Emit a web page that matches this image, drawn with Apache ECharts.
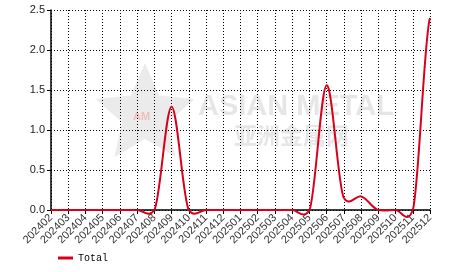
<!DOCTYPE html>
<html><head><meta charset="utf-8">
<script src="https://cdn.jsdelivr.net/npm/echarts@6/dist/echarts.min.js"></script>
<style>html,body{margin:0;padding:0;background:#fff}#c{width:466px;height:272px}</style>
</head><body><div id="c"></div>
<script>
var categories = ["202402","202403","202404","202405","202406","202407","202408","202409","202410","202411","202412","202501","202502","202503","202504","202505","202506","202507","202508","202509","202510","202511","202512"];
var totalValues = [0,0,0,0,0,0,0,1.29,0,0,0,0,0,0,0,0,1.56,0.15,0.17,0,0,0,2.4];
var seriesName = "Total";
var yTicks = {min:0,max:2.5,interval:0.5};

function starPoints(cx, cy, R, r){
  var pts=[];
  for(var k=0;k<10;k++){
    var ang=-Math.PI/2+k*Math.PI/5, rad=(k%2===0)?R:r;
    pts.push([cx+rad*Math.cos(ang), cy+rad*Math.sin(ang)]);
  }
  return pts;
}
var CP = 1/12;
function renderSegment(params, api){
  var i = api.value(0);
  var n = totalValues.length;
  if(i >= n-1) return null;
  var a = Math.max(i-1,0), d = Math.min(i+2,n-1);
  var p0 = api.coord([a, totalValues[a]]);
  var p1 = api.coord([i, totalValues[i]]);
  var p2 = api.coord([i+1, totalValues[i+1]]);
  var p3 = api.coord([d, totalValues[d]]);
  var cp1x = p1[0]+(p2[0]-p1[0])/3, cp1y = p1[1]+(p2[1]-p0[1])*CP;
  var cp2x = p2[0]-(p2[0]-p1[0])/3, cp2y = p2[1]-(p3[1]-p1[1])*CP;
  return {type:'bezierCurve', shape:{x1:p1[0],y1:p1[1],x2:p2[0],y2:p2[1],cpx1:cp1x,cpy1:cp1y,cpx2:cp2x,cpy2:cp2y},
    style:{stroke:'#d9001b',lineWidth:2,fill:null}};
}

var chart = echarts.init(document.getElementById('c'), null, {renderer:'canvas'});
chart.setOption({
  animation:false,
  graphic:[
    {type:'polygon', shape:{points:starPoints(145,115,52,24)}, style:{fill:'rgba(205,205,205,0.4)'}, z:-1},
    {type:'text', left:133, top:111, style:{text:'AM', font:'bold 11px Arial', fill:'rgba(245,160,160,0.6)'}, z:-1},
    {type:'text', left:198, top:92, style:{text:'ASIAN METAL', font:'bold 29px Arial, "Liberation Sans"', fill:'rgba(205,205,205,0.5)'}, z:-1},
    {type:'text', left:234, top:124, style:{text:'亚洲金属网', font:'bold 23px "Noto Sans CJK SC"', fill:'rgba(205,205,205,0.5)'}, z:-1}
  ],
  grid:{left:51,right:36,top:10,bottom:62},
  legend:{left:58,top:253,padding:0,itemWidth:15,itemHeight:3,itemGap:10,icon:'rect',
    textStyle:{fontFamily:'"Liberation Mono", "DejaVu Sans Mono", monospace',fontSize:10,color:'#000',padding:[0,0,0,0]},
    data:[{name:seriesName,itemStyle:{color:'#d9001b'}}]},
  xAxis:{type:'category',data:categories,boundaryGap:false,
    axisLine:{lineStyle:{color:'#000',width:1.5}},
    axisTick:{show:true,length:4,lineStyle:{color:'#000'},interval:0},
    axisLabel:{rotate:45,interval:0,fontSize:11,color:'#333',fontFamily:'Arial, "Liberation Sans"',margin:6},
    splitLine:{show:true,interval:0,lineStyle:{color:'#000',type:[1,2],width:1}}},
  yAxis:{type:'value',min:yTicks.min,max:yTicks.max,interval:yTicks.interval,
    axisLine:{show:true,lineStyle:{color:'#000',width:1.5}},
    axisTick:{show:true,length:4,lineStyle:{color:'#000'}},
    axisLabel:{fontSize:11,color:'#222',fontFamily:'Arial, "Liberation Sans"',margin:6,formatter:function(v){return v.toFixed(1);}},
    splitLine:{show:true,lineStyle:{color:'#000',type:[1,2],width:1}}},
  series:[{name:seriesName,type:'custom',clip:false,
    data:totalValues.map(function(v,i){return [i,v];}),
    encode:{x:0,y:1},
    itemStyle:{color:'#d9001b'},
    renderItem:renderSegment, z:5}]
});
</script></body></html>
